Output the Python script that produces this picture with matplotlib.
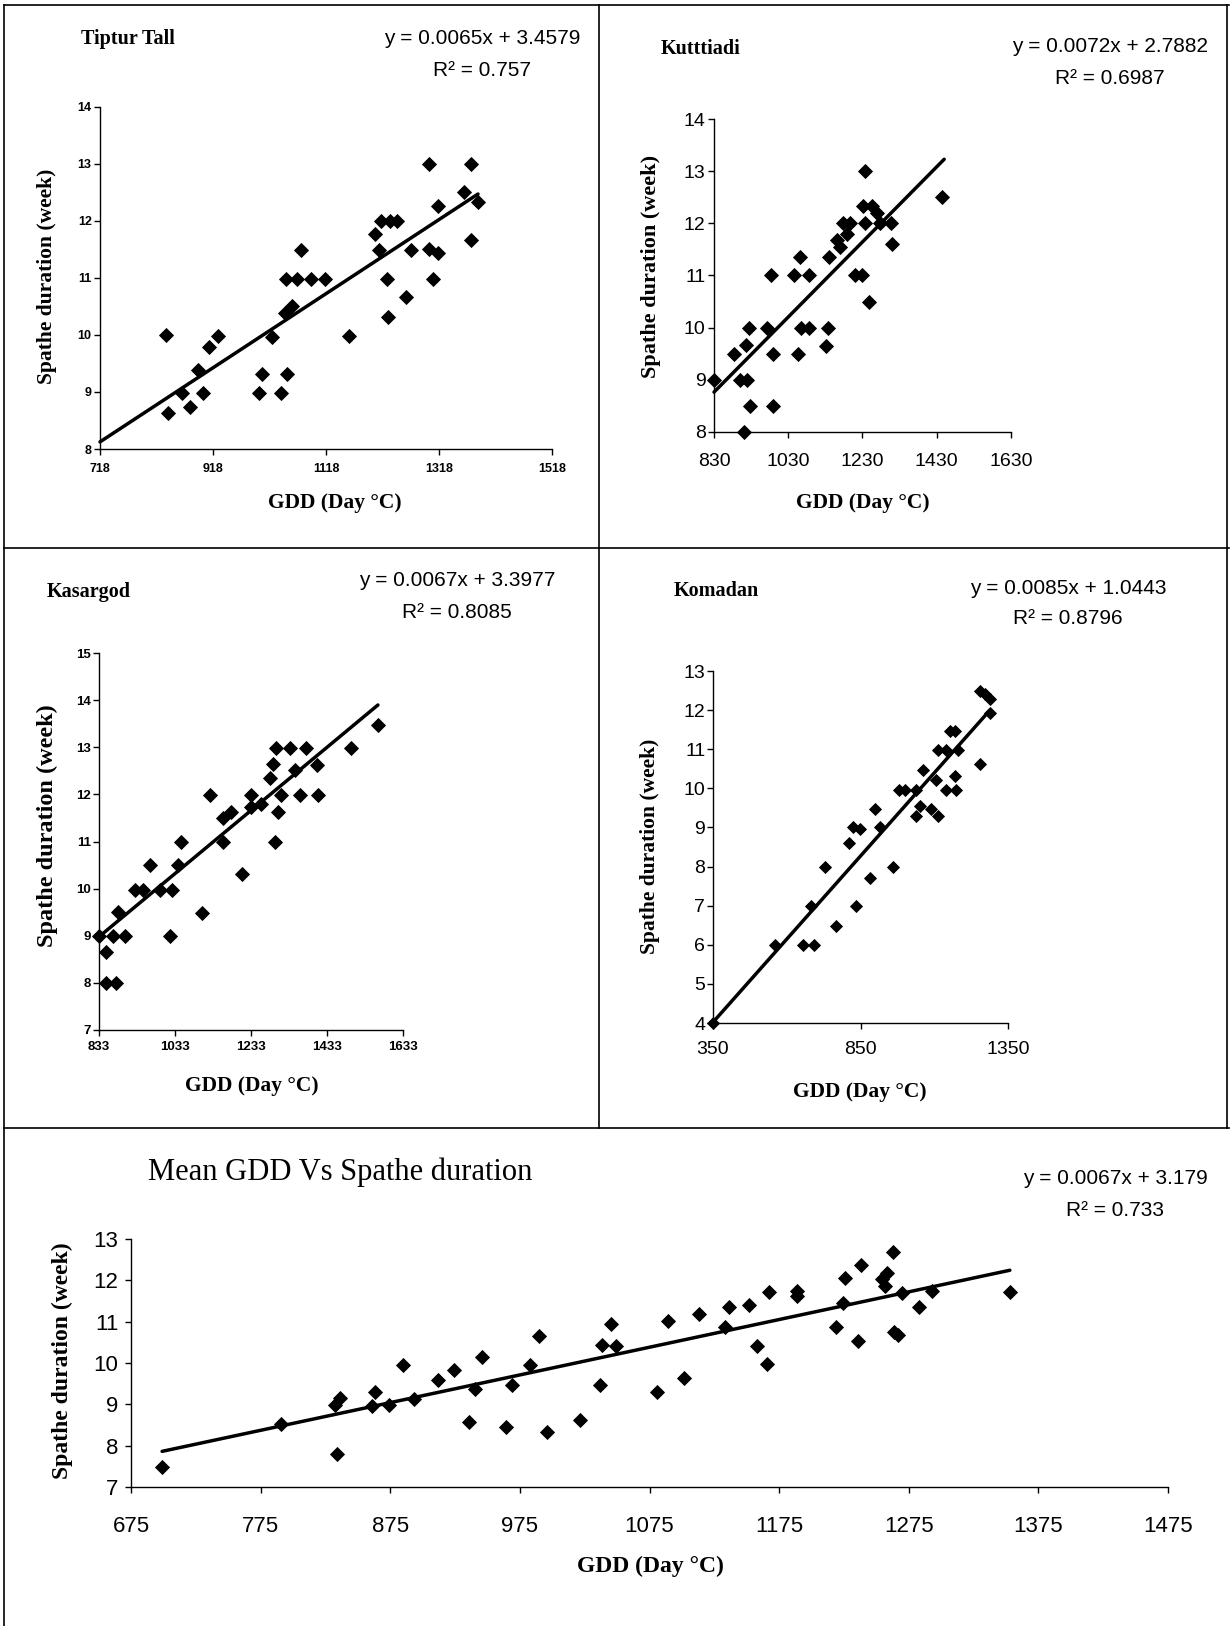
import matplotlib
matplotlib.use('Agg')
import matplotlib.pyplot as plt
from matplotlib.lines import Line2D
import numpy as np

# ---------------- data ----------------
tiptur_gdd = [834, 839, 863, 878, 891, 901, 911, 927, 999, 1005, 1022, 1038, 1049, 1045,
              1057, 1048, 1067, 1073, 1091, 1116, 1158, 1204, 1211, 1216, 1232, 1243, 1226,
              1228, 1260, 1269, 1300, 1300, 1307, 1317, 1316, 1362, 1374, 1374, 1387]
tiptur_spathe = [10.0, 8.64, 8.98, 8.73, 9.39, 8.99, 9.79, 9.99, 8.98, 9.32, 9.97, 8.98, 9.32, 10.39,
                 10.5, 10.98, 10.98, 11.49, 10.98, 10.98, 9.99, 11.78, 11.49, 12.0, 12.0, 12.0, 10.98,
                 10.32, 10.66, 11.49, 13.0, 11.5, 10.98, 11.43, 12.26, 12.51, 13.0, 11.67, 12.34]

kuttiadi_gdd = [830, 885, 900, 916, 920, 925, 927, 912, 972, 983, 988, 990, 1045, 1057, 1062,
                1064, 1087, 1087, 1133, 1136, 1141, 1160, 1169, 1178, 1187, 1196, 1210, 1228,
                1238, 1238, 1232, 1248, 1255, 1268, 1277, 1308, 1310, 1443]
kuttiadi_spathe = [9.0, 9.5, 9.0, 9.66, 9.0, 10.0, 8.5, 8.0, 10.0, 11.0, 8.5, 9.5, 11.0, 9.5, 11.35,
                   10.0, 10.0, 11.0, 9.65, 9.99, 11.35, 11.68, 11.55, 12.0, 11.8, 12.0, 11.0, 11.0,
                   13.0, 12.0, 12.33, 10.5, 12.33, 12.19, 12.0, 12.0, 11.6, 12.5]

kasargod_gdd = [833, 851, 851, 879, 870, 883, 901, 929, 949, 968, 993, 1019, 1025, 1041, 1050,
                1105, 1124, 1159, 1159, 1181, 1208, 1232, 1234, 1260, 1282, 1291, 1299, 1297,
                1304, 1313, 1335, 1348, 1363, 1379, 1407, 1409, 1497, 1567]
kasargod_spathe = [8.99, 8.66, 7.99, 7.99, 9.0, 9.51, 9.0, 9.98, 9.98, 10.5, 9.98, 9.0, 9.98, 10.5, 11.0,
                   9.49, 11.99, 10.99, 11.49, 11.63, 10.32, 11.99, 11.73, 11.8, 12.34, 12.65, 12.99, 10.99,
                   11.63, 11.99, 12.99, 12.51, 11.99, 12.99, 12.62, 11.99, 12.99, 13.47]

komadan_gdd = [350, 559, 655, 691, 683, 731, 766, 811, 825, 847, 836, 883, 898, 915, 960, 981,
               1000, 1037, 1062, 1039, 1051, 1090, 1113, 1105, 1113, 1141, 1141, 1152, 1169,
               1169, 1175, 1181, 1254, 1254, 1271, 1288, 1288]
komadan_spathe = [4.0, 6.0, 6.0, 6.0, 7.0, 8.0, 6.48, 8.61, 9.0, 8.97, 7.0, 7.72, 9.48, 9.0, 8.0, 9.97,
                  9.97, 9.97, 10.46, 9.3, 9.54, 9.48, 9.3, 10.21, 10.97, 10.97, 9.95, 11.46, 11.46,
                  10.31, 9.95, 10.97, 10.61, 12.49, 12.42, 12.29, 11.93]

mean_gdd = [699, 791, 832, 836, 834, 863, 861, 874, 885, 893, 912, 924, 936, 940, 946, 964, 969,
            983, 990, 996, 1021, 1037, 1038, 1045, 1049, 1081, 1089, 1102, 1113, 1133, 1136,
            1152, 1158, 1166, 1167, 1189, 1189, 1219, 1224, 1226, 1236, 1238, 1254, 1258, 1257,
            1263, 1264, 1267, 1270, 1283, 1293, 1353]
mean_spathe = [7.49, 8.52, 8.99, 9.15, 7.81, 9.3, 8.95, 8.99, 9.96, 9.13, 9.6, 9.84, 8.57, 9.38, 10.14,
               8.46, 9.46, 9.96, 10.65, 8.34, 8.62, 9.46, 10.43, 10.95, 10.41, 9.31, 11.02, 9.64,
               11.19, 10.86, 11.36, 11.40, 10.40, 9.98, 11.71, 11.74, 11.63, 10.88, 11.45, 12.06,
               10.54, 12.37, 12.04, 12.17, 11.86, 12.68, 10.74, 10.68, 11.69, 11.36, 11.73, 11.71]

titles = ['Tiptur Tall', 'Kutttiadi', 'Kasargod', 'Komadan', 'Mean GDD Vs Spathe duration']
slopes = [0.0065, 0.0072, 0.0067, 0.0085, 0.0067]
intercepts = [3.4579, 2.7882, 3.3977, 1.0443, 3.179]
r2_texts = ['0.757', '0.6987', '0.8085', '0.8796', '0.733']
eq_texts = ['y = 0.0065x + 3.4579', 'y = 0.0072x + 2.7882', 'y = 0.0067x + 3.3977',
            'y = 0.0085x + 1.0443', 'y = 0.0067x + 3.179']
fit_ranges = [(718, 1387), (830, 1450), (833, 1567), (350, 1288), (699, 1353)]
xticks_list = [[718, 918, 1118, 1318, 1518], [830, 1030, 1230, 1430, 1630],
               [833, 1033, 1233, 1433, 1633], [350, 850, 1350],
               [675, 775, 875, 975, 1075, 1175, 1275, 1375, 1475]]
yticks_list = [list(range(8, 15)), list(range(8, 15)), list(range(7, 16)),
               list(range(4, 14)), list(range(7, 14))]
xlabel_text = 'GDD (Day °C)'
ylabel_text = 'Spathe duration (week)'

# ---------------- layout ----------------
W, H = 1231, 1626
fig = plt.figure(figsize=(W / 100, H / 100), dpi=100)
fig.patch.set_facecolor('white')
plt.rcParams['font.family'] = ['Liberation Sans', 'DejaVu Sans']
SERIF = ['Liberation Serif', 'DejaVu Serif']


def fx(x):
    return x / W


def fy(y):
    return 1 - y / H


def ax_at(left, top, right, bottom):
    return fig.add_axes([fx(left), fy(bottom), (right - left) / W, (bottom - top) / H])


# per-panel geometry (pixel coords)
boxes = [(100, 107, 552, 449), (714, 119, 1011, 432), (99, 653, 403, 1030),
         (713, 671, 1008, 1023), (131, 1239, 1168, 1487)]
tick_fs = [9, 14, 9.5, 14, 16]
tick_bold = [True, False, True, False, False]
xpads = [6, 11, 4, 9, 17]
ypads = [2, 2, 2, 1.5, 5]
msizes = [7.0, 6.8, 7.0, 6.6, 7.0]
title_pos = [(81, 39), (661, 49), (47, 592), (674, 591), (148, 1172)]
title_fs = [14.5, 14.5, 14.5, 14.5, 22]
title_bold = [True, True, True, True, False]
eq_pos = [(482, 39, 70), (1110, 47, 78), (457, 581, 612), (1068, 588, 618), (1115, 1179, 1210)]
ylab_pos = [(47, 276), (651, 266), (47, 826), (650, 846), (62, 1361)]
ylab_fs = [15.5, 16, 17.5, 15.5, 17]
xlab_pos = [(335, 503), (863, 503), (252, 1086), (860, 1092), (650, 1566)]
xlab_fs = [15.5, 15.5, 15.5, 15.5, 17]

datasets = [(tiptur_gdd, tiptur_spathe), (kuttiadi_gdd, kuttiadi_spathe),
            (kasargod_gdd, kasargod_spathe), (komadan_gdd, komadan_spathe),
            (mean_gdd, mean_spathe)]

for i, (gx, sy) in enumerate(datasets):
    ax = ax_at(*boxes[i])
    ax.set_facecolor('none')
    xt, yt = xticks_list[i], yticks_list[i]
    ax.set_xlim(xt[0], xt[-1])
    ax.set_ylim(yt[0], yt[-1])
    ax.set_xticks(xt)
    ax.set_yticks(yt)
    for s in ['top', 'right']:
        ax.spines[s].set_visible(False)
    for s in ['left', 'bottom']:
        ax.spines[s].set_linewidth(1.0)
        ax.spines[s].set_color('black')
    ax.tick_params(direction='out', length=4, width=1.0, colors='black',
                   labelsize=tick_fs[i])
    ax.tick_params(axis='x', pad=xpads[i])
    ax.tick_params(axis='y', pad=ypads[i])
    for lab in ax.get_xticklabels() + ax.get_yticklabels():
        lab.set_fontweight('bold' if tick_bold[i] else 'normal')
        lab.set_fontfamily(['Liberation Sans', 'DejaVu Sans'])
    ax.plot(gx, sy, linestyle='none', marker='D', color='black', markersize=msizes[i],
            markeredgewidth=0.6, clip_on=False, zorder=3)
    x0, x1 = fit_ranges[i]
    lx = np.array([x0, x1], dtype=float)
    ax.plot(lx, slopes[i] * lx + intercepts[i], color='black', linewidth=2.5,
            solid_capstyle='round', clip_on=False, zorder=2)

    tx, ty = title_pos[i]
    fig.text(fx(tx), fy(ty), titles[i], family=SERIF, fontsize=title_fs[i],
             fontweight='bold' if title_bold[i] else 'normal', ha='left', va='center')
    ex, ey1, ey2 = eq_pos[i]
    fig.text(fx(ex), fy(ey1), eq_texts[i], fontsize=15, ha='center', va='center')
    fig.text(fx(ex), fy(ey2), 'R² = ' + r2_texts[i], fontsize=15, ha='center', va='center')
    yx, yy = ylab_pos[i]
    fig.text(fx(yx), fy(yy), ylabel_text, family=SERIF, fontsize=ylab_fs[i],
             fontweight='bold', rotation=90, ha='center', va='center')
    xx, xy = xlab_pos[i]
    fig.text(fx(xx), fy(xy), xlabel_text, family=SERIF, fontsize=xlab_fs[i],
             fontweight='bold', ha='center', va='center')

# frame lines around the panels
frame = [((4, 1229), (5, 5)), ((4, 4), (5, 1626)), ((599, 599), (5, 1128)),
         ((4, 1229), (548, 548)), ((4, 1229), (1128, 1128)), ((1227, 1227), (5, 1128))]
for (xa, xb), (ya, yb) in frame:
    fig.add_artist(Line2D([fx(xa), fx(xb)], [fy(ya), fy(yb)], color='black', linewidth=1.2,
                          transform=fig.transFigure))

fig.savefig('out.png', dpi=100, facecolor='white')
